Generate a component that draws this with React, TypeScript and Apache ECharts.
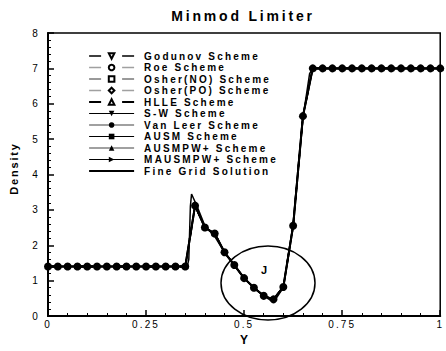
import React, { useEffect, useRef } from "react";
import * as echarts from "echarts";

const titleText = "Minmod Limiter";
const xAxisName = "Y";
const yAxisName = "Density";
const xTickLabels = ["0", "0.25", "0.5", "0.75", "1"];

// Coarse-grid positions (one marker every 0.025)
const gridY = [
  0, 0.025, 0.05, 0.075, 0.1, 0.125, 0.15, 0.175, 0.2, 0.225, 0.25, 0.275, 0.3, 0.325, 0.35,
  0.375, 0.4, 0.425, 0.45, 0.475, 0.5, 0.525, 0.55, 0.575, 0.6, 0.625, 0.65,
  0.675, 0.7, 0.725, 0.75, 0.775, 0.8, 0.825, 0.85, 0.875, 0.9, 0.925, 0.95, 0.975, 1.0,
];
// Scheme densities (the schemes practically overlap each other)
const schemeDensity = [
  1.4, 1.4, 1.4, 1.4, 1.4, 1.4, 1.4, 1.4, 1.4, 1.4, 1.4, 1.4, 1.4, 1.4, 1.4,
  3.12, 2.5, 2.33, 1.8, 1.44, 1.07, 0.8, 0.57, 0.47, 0.82, 2.55, 5.65,
  7.0, 7.0, 7.0, 7.0, 7.0, 7.0, 7.0, 7.0, 7.0, 7.0, 7.0, 7.0, 7.0, 7.0,
];
// Fine grid solution
const fineY = [
  0, 0.355, 0.359, 0.363, 0.366, 0.372, 0.38, 0.4, 0.425, 0.45, 0.475, 0.5, 0.525, 0.55,
  0.568, 0.58, 0.6, 0.625, 0.65, 0.667, 0.675, 1.0,
];
const fineDensity = [
  1.4, 1.4, 1.6, 3.1, 3.45, 3.3, 3.1, 2.55, 2.25, 1.8, 1.44, 1.07, 0.8, 0.57,
  0.44, 0.47, 0.8, 2.6, 5.6, 6.85, 7.0, 7.0,
];

type Scheme = {
  name: string;
  symbol: string;
  rotate: number;
  dash: number[] | "solid";
  width: number;
  color: string;
};

const GRAY = "#a0a0a0";

const schemes: Scheme[] = [
  { name: "Godunov Scheme", symbol: "emptyTriangle", rotate: 180, dash: [12, 21], width: 1.3, color: "#000" },
  { name: "Roe Scheme", symbol: "emptyCircle", rotate: 0, dash: [12, 21], width: 1.3, color: GRAY },
  { name: "Osher(NO) Scheme", symbol: "emptyRect", rotate: 0, dash: [12, 21], width: 0.8, color: "#000" },
  { name: "Osher(PO) Scheme", symbol: "emptyDiamond", rotate: 0, dash: [12, 21], width: 1.3, color: GRAY },
  { name: "HLLE Scheme", symbol: "emptyTriangle", rotate: 0, dash: [12, 21], width: 1.8, color: "#000" },
  { name: "S-W Scheme", symbol: "triangle", rotate: 180, dash: "solid", width: 1, color: "#000" },
  { name: "Van Leer Scheme", symbol: "circle", rotate: 0, dash: "solid", width: 2.2, color: GRAY },
  { name: "AUSM Scheme", symbol: "rect", rotate: 0, dash: "solid", width: 1.2, color: "#000" },
  { name: "AUSMPW+ Scheme", symbol: "triangle", rotate: 0, dash: "solid", width: 2, color: GRAY },
  { name: "MAUSMPW+ Scheme", symbol: "triangle", rotate: -90, dash: "solid", width: 1.2, color: "#000" },
];
const fineName = "Fine Grid Solution";

const spacingFor = (txt: string): number | null => {
  if (txt === titleText) return 2.8;
  if (txt === fineName || schemes.some((s) => s.name === txt)) return 2.2;
  if (txt === yAxisName) return 1.8;
  if (xTickLabels.includes(txt) || /^[0-8]$/.test(txt)) return 2.1;
  return null;
};

export default function App() {
  const ref = useRef<HTMLDivElement>(null);

  useEffect(() => {
    if (!ref.current) return;
    const chart = echarts.init(ref.current, undefined, { renderer: "svg" });

    const schemeData = gridY.map((y, i) => [y, schemeDensity[i]]);
    const fineData = fineY.map((y, i) => [y, fineDensity[i]]);

    const series: any[] = schemes.map((s) => {
      const isVL = s.name === "Van Leer Scheme";
      return {
        name: s.name,
        type: "line",
        data: schemeData,
        symbol: s.symbol,
        symbolRotate: s.rotate,
        symbolSize: isVL ? 8 : 7,
        showSymbol: isVL,
        color: "#000",
        itemStyle: { color: "#000" },
        lineStyle: { color: "#000", width: isVL ? 2 : s.width, type: s.dash },
        z: isVL ? 4 : 2,
      };
    });
    series.push({
      name: fineName,
      type: "line",
      data: fineData,
      symbol: "none",
      color: "#000",
      itemStyle: { color: "#000" },
      lineStyle: { color: "#000", width: 1.5 },
      z: 3,
    });

    const legendData: any[] = schemes.map((s) => ({
      name: s.name,
      lineStyle: { color: s.color, width: s.width, type: s.dash },
    }));
    legendData.push({ name: fineName, itemStyle: { opacity: 0 } });

    chart.setOption({
      animation: false,
      backgroundColor: "#fff",
      title: {
        text: titleText,
        left: 238,
        textAlign: "center",
        top: 4,
        textStyle: { fontFamily: "Liberation Sans", fontWeight: "bold", fontSize: 14, color: "#000" },
      },
      legend: {
        orient: "vertical",
        left: 83,
        top: 46,
        itemWidth: 45,
        itemHeight: 7,
        itemGap: 1.5,
        data: legendData,
        textStyle: {
          fontFamily: "Liberation Sans",
          fontWeight: "bold",
          fontSize: 10,
          color: "#000",
          padding: [0, 0, 0, 5],
        },
      },
      grid: {
        left: 47,
        right: 1,
        top: 33,
        bottom: 25,
        show: true,
        borderColor: "#000",
        borderWidth: 1.5,
        backgroundColor: "transparent",
      },
      xAxis: {
        type: "value",
        min: 0,
        max: 1,
        interval: 0.25,
        name: xAxisName,
        nameLocation: "middle",
        nameGap: 18,
        nameTextStyle: { fontFamily: "Liberation Sans", fontWeight: "bold", fontSize: 12, color: "#000" },
        axisLine: { lineStyle: { color: "#000", width: 2 } },
        axisTick: { inside: true, length: 6, lineStyle: { color: "#000", width: 1.5 } },
        minorTick: { show: true, splitNumber: 5, length: 3, lineStyle: { color: "#000", width: 1 } },
        splitLine: { show: false },
        axisLabel: {
          margin: 3,
          fontFamily: "Liberation Sans",
          fontSize: 10,
          color: "#000",
          formatter: (v: number) => xTickLabels[Math.round(v / 0.25)] ?? "",
        },
      },
      yAxis: {
        type: "value",
        min: 0,
        max: 8,
        interval: 1,
        name: yAxisName,
        nameLocation: "middle",
        nameGap: 29,
        nameTextStyle: {
          fontFamily: "Liberation Sans",
          fontWeight: "bold",
          fontSize: 11,
          color: "#000",
          padding: [0, 0, 0, 12],
        },
        axisLine: { lineStyle: { color: "#000", width: 2 } },
        axisTick: { inside: true, length: 6, lineStyle: { color: "#000", width: 1.5 } },
        minorTick: { show: true, splitNumber: 5, length: 3, lineStyle: { color: "#000", width: 1 } },
        splitLine: { show: false },
        axisLabel: { margin: 8, fontFamily: "Liberation Sans", fontSize: 10, color: "#000" },
      },
      graphic: [
        {
          type: "ellipse",
          shape: { cx: 268, cy: 283, rx: 47, ry: 37 },
          style: { fill: "none", stroke: "#000", lineWidth: 1.5 },
          z: 10,
        },
        {
          type: "text",
          x: 264,
          y: 270,
          style: {
            text: "J",
            fontFamily: "Liberation Sans",
            fontWeight: "bold",
            fontSize: 11,
            fill: "#000",
            align: "center",
            verticalAlign: "middle",
          },
          z: 10,
        },
      ],
      series,
    });

    const applySpacing = () => {
      const root = ref.current;
      if (!root) return;
      root.querySelectorAll("text").forEach((t) => {
        const sp = spacingFor((t.textContent || "").trim());
        if (sp != null) (t as SVGTextElement).style.letterSpacing = sp + "px";
      });
    };
    applySpacing();
    chart.on("finished", applySpacing);

    return () => chart.dispose();
  }, []);

  return <div ref={ref} style={{ width: 446, height: 351, position: "absolute", left: 0, top: 0 }} />;
}
